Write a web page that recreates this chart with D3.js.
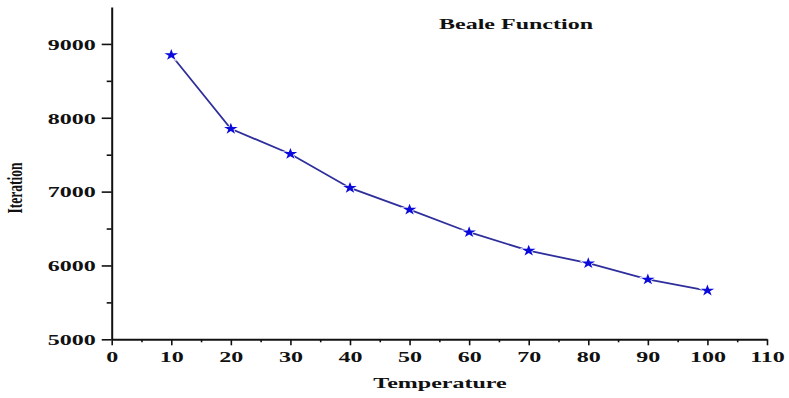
<!DOCTYPE html>
<html>
<head>
<meta charset="utf-8">
<script src="https://cdn.jsdelivr.net/npm/d3@7/dist/d3.min.js"></script>
<style>
  html, body { margin: 0; padding: 0; background: #fff; }
  svg { display: block; }
  text { font-family: "Liberation Serif", "Times New Roman", serif; font-weight: bold; fill: #111; }
</style>
</head>
<body>
<svg id="chart" width="789" height="398"></svg>
<script>
// Beale Function: iterations needed vs. starting temperature
const temperature = [10, 20, 30, 40, 50, 60, 70, 80, 90, 100];
const iterations  = [8850, 7850, 7510, 7050, 6755, 6450, 6200, 6030, 5810, 5660];

const xMajorTicks = [0, 10, 20, 30, 40, 50, 60, 70, 80, 90, 100, 110];
const xMinorTicks = [5, 15, 25, 35, 45, 55, 65, 75, 85, 95, 105];
const yMajorTicks = [5000, 6000, 7000, 8000, 9000];
const yMinorTicks = [5500, 6500, 7500, 8500];

const titleText = "Beale Function";
const xLabel = "Temperature";
const yLabel = "Iteration";

const svg = d3.select("#chart");
const stretch = 1.55; // wide lettering

const x = d3.scaleLinear().domain([0, 110]).range([111.7, 767]);
const y = d3.scaleLinear().domain([5000, 9500]).range([339.3, 7]);

// y axis
const yAxis = svg.append("g").attr("transform", `translate(${x(0)},0)`);
yAxis.call(d3.axisLeft(y).tickValues(yMajorTicks).tickSize(10).tickSizeOuter(0).tickFormat(d3.format("d")));
svg.append("g").attr("transform", `translate(${x(0)},0)`)
  .call(d3.axisLeft(y).tickValues(yMinorTicks).tickSize(5).tickSizeOuter(0).tickFormat(""))
  .select(".domain").remove();
yAxis.selectAll(".tick text")
  .attr("x", 0).attr("dy", "0.34em")
  .attr("text-anchor", "end")
  .attr("font-size", 15.5)
  .attr("transform", `translate(-16,0) scale(${stretch},1)`);

// x axis
const xAxis = svg.append("g").attr("transform", `translate(0,${y(5000)})`);
xAxis.call(d3.axisBottom(x).tickValues(xMajorTicks).tickSize(6).tickSizeOuter(0).tickFormat(d3.format("d")));
svg.append("g").attr("transform", `translate(0,${y(5000)})`)
  .call(d3.axisBottom(x).tickValues(xMinorTicks).tickSize(3).tickSizeOuter(0).tickFormat(""))
  .select(".domain").remove();
xAxis.selectAll(".tick text")
  .attr("y", 0).attr("dy", 0)
  .attr("text-anchor", "middle")
  .attr("font-size", 15.5)
  .attr("transform", `translate(0,22.5) scale(${stretch},1)`);

svg.selectAll(".domain").attr("stroke", "#111").attr("stroke-width", 2);
svg.selectAll(".tick line").attr("stroke", "#111").attr("stroke-width", 1.6);
svg.selectAll(".tick text").attr("fill", "#111").style("font-family", "'Liberation Serif', serif").style("font-weight", "bold");

// series line
const pts = temperature.map((t, i) => [x(t), y(iterations[i])]);
svg.append("path")
  .datum(pts)
  .attr("fill", "none")
  .attr("stroke", "#2e2e9c")
  .attr("stroke-width", 1.8)
  .attr("d", d3.line());

// star markers
const star = d3.symbol().type(d3.symbolStar).size(40);
svg.append("g").selectAll("path")
  .data(pts)
  .join("path")
  .attr("d", star)
  .attr("transform", d => `translate(${d[0]},${d[1]}) scale(1.2,1)`)
  .attr("fill", "#0a0adc")
  .attr("stroke", "#ffffff")
  .attr("stroke-width", 1.2)
  .attr("paint-order", "stroke");

// title and axis labels
svg.append("text")
  .attr("text-anchor", "middle")
  .attr("font-size", 15.5)
  .attr("transform", `translate(516,29) scale(${stretch},1)`)
  .text(titleText);

svg.append("text")
  .attr("text-anchor", "middle")
  .attr("font-size", 15.5)
  .attr("transform", `translate(440,388) scale(${stretch},1)`)
  .text(xLabel);

svg.append("text")
  .attr("text-anchor", "middle")
  .attr("font-size", 13.5)
  .attr("transform", `translate(22,188) scale(${stretch},1) rotate(-90)`)
  .text(yLabel);
</script>
</body>
</html>
